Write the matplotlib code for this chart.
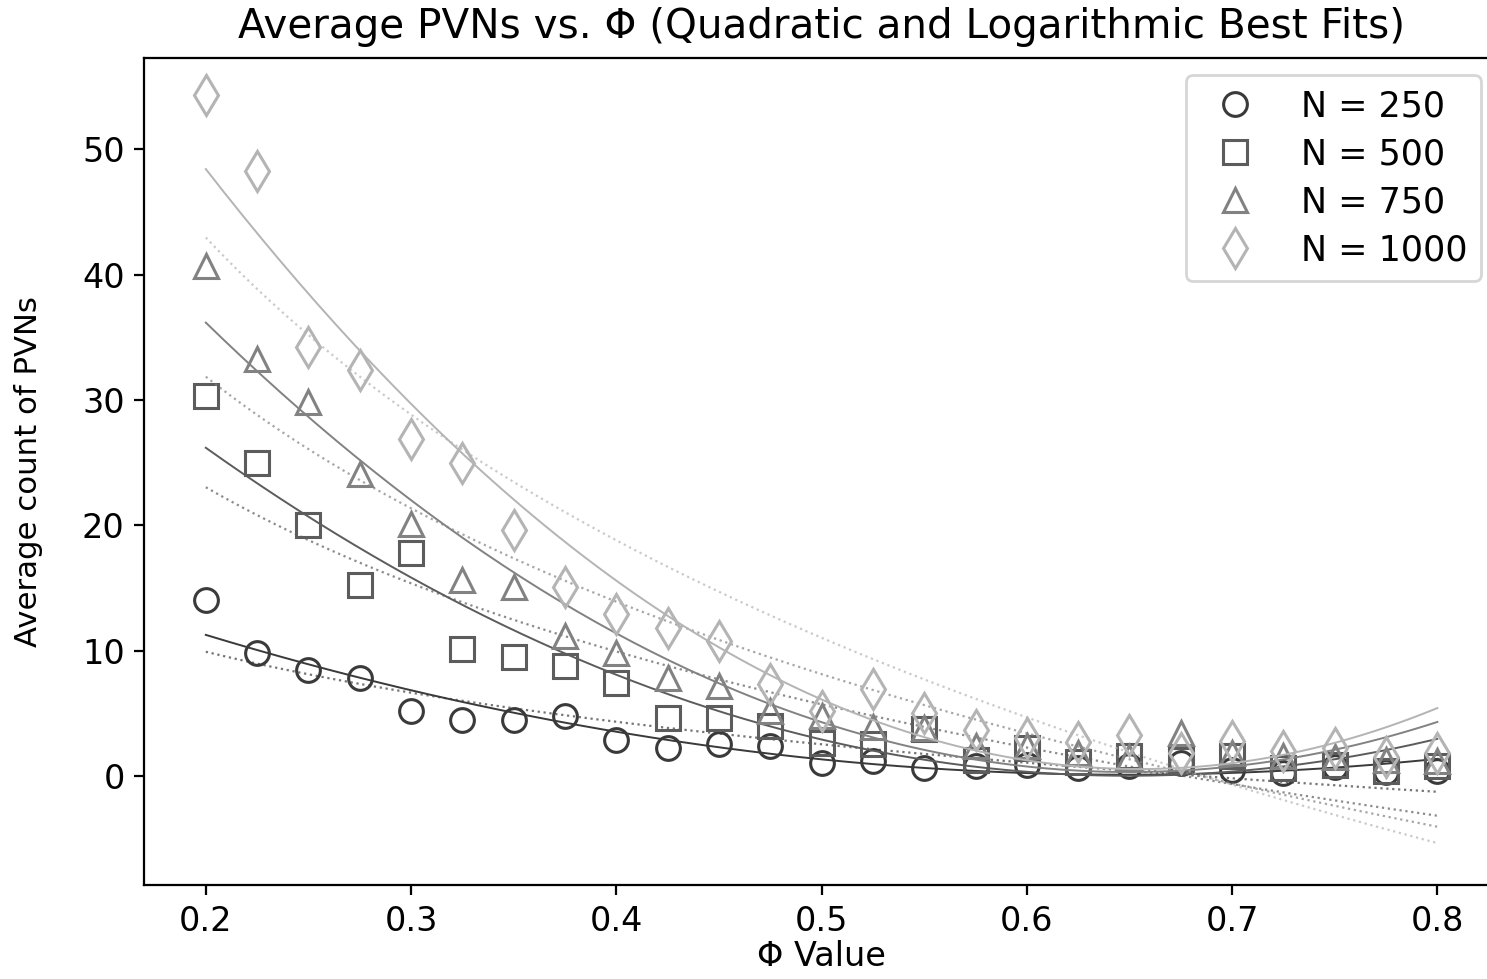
import numpy as np
import matplotlib
matplotlib.use('Agg')
import matplotlib.pyplot as plt

phi = [0.2, 0.225, 0.25, 0.275, 0.3, 0.325, 0.35, 0.375, 0.4, 0.425, 0.45, 0.475, 0.5,
       0.525, 0.55, 0.575, 0.6, 0.625, 0.65, 0.675, 0.7, 0.725, 0.75, 0.775, 0.8]

pvn_250 = [14.0, 9.8, 8.45, 7.8, 5.2, 4.5, 4.5, 4.8, 2.9, 2.2, 2.55, 2.4, 1.0,
           1.2, 0.6, 0.8, 0.9, 0.6, 0.8, 1.0, 0.5, 0.25, 0.7, 0.3, 0.4]
pvn_500 = [30.3, 25.0, 20.0, 15.2, 17.8, 10.1, 9.5, 8.8, 7.4, 4.6, 4.6, 4.0, 2.6,
           2.55, 3.75, 1.3, 2.2, 1.1, 1.6, 1.3, 1.6, 0.6, 0.9, 0.4, 0.8]
pvn_750 = [40.7, 33.3, 29.8, 24.1, 20.1, 15.6, 15.1, 11.2, 9.8, 7.8, 7.2, 5.2, 4.8,
           3.9, 3.8, 2.4, 2.4, 1.8, 1.5, 3.4, 1.8, 1.6, 1.5, 1.3, 1.2]
pvn_1000 = [54.3, 48.3, 34.2, 32.4, 26.9, 25.0, 19.6, 15.1, 12.9, 11.8, 10.8, 7.3, 5.2,
            6.9, 5.0, 3.7, 3.0, 2.7, 3.3, 1.8, 2.8, 2.0, 2.2, 1.5, 1.8]

labels = ['N = 250', 'N = 500', 'N = 750', 'N = 1000']
series = [pvn_250, pvn_500, pvn_750, pvn_1000]
markers = ['o', 's', '^', 'd']
colors = ['#3a3a3a', '#5c5c5c', '#828282', '#b4b4b4']

fig = plt.figure(figsize=(1487 / 201, 979 / 201), dpi=201)
ax = fig.add_axes([0.097, 0.096, 0.911, 0.845])

x = np.array(phi)
xs = np.linspace(x.min(), x.max(), 200)
for vals, lab, m, c in zip(series, labels, markers, colors):
    y = np.array(vals)
    ms = 10 if m == 'd' else 8.5
    ax.plot(x, y, linestyle='none', marker=m, mfc='none', mec=c, mew=1.1, ms=ms, label=lab)
    # quadratic fit
    q = np.polyfit(x, y, 2)
    ax.plot(xs, np.polyval(q, xs), color=c, lw=0.7)
    # logarithmic fit
    lg = np.polyfit(np.log(x), y, 1)
    ax.plot(xs, np.polyval(lg, np.log(xs)), color=c, lw=0.8, ls=':', alpha=0.7)

ax.set_xlim(0.17, 0.83)
ax.set_ylim(-8.7, 57.3)
ax.set_xlabel('Φ Value', fontsize=12, labelpad=1)
ax.set_ylabel('Average count of PVNs', fontsize=11, labelpad=14)
ax.set_title('Average PVNs vs. Φ (Quadratic and Logarithmic Best Fits)', fontsize=14.5, pad=7)
ax.tick_params(labelsize=12)
ax.legend(loc='upper right', fontsize=12.5, borderaxespad=0.5, labelspacing=0.4,
          handletextpad=0.9)

fig.savefig('out.png', dpi=201)
